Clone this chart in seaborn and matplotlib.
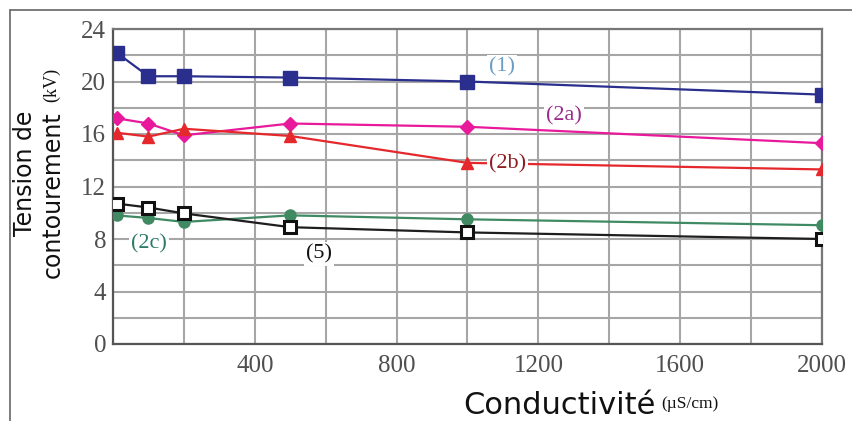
import matplotlib
matplotlib.use("Agg")
import matplotlib.pyplot as plt
import seaborn as sns
import pandas as pd
from matplotlib.lines import Line2D

# Conductivity (µS/cm) and flashover voltage (kV) for each configuration
conductivite = [10, 100, 200, 500, 1000, 2000]
tension_1 = [22.2, 20.4, 20.4, 20.3, 20.0, 19.0]
tension_2a = [17.2, 16.8, 15.9, 16.8, 16.55, 15.3]
tension_2b = [16.1, 15.8, 16.4, 15.85, 13.8, 13.3]
tension_2c = [9.8, 9.6, 9.3, 9.8, 9.5, 9.05]
tension_5 = [10.7, 10.4, 9.95, 8.9, 8.5, 8.0]

series_names = ["(1)", "(2a)", "(2b)", "(2c)", "(5)"]
y_ticks = [0, 4, 8, 12, 16, 20, 24]
x_ticks = [400, 800, 1200, 1600, 2000]

df = pd.DataFrame({
    "cond": conductivite * 5,
    "kv": tension_1 + tension_2a + tension_2b + tension_2c + tension_5,
    "serie": [n for n in series_names for _ in conductivite],
})

sns.set_theme(style="white")
plt.rcParams["font.family"] = ["DejaVu Sans"]

fig = plt.figure(figsize=(8.53, 4.21), dpi=100)
ax = fig.add_axes([113 / 853, 77 / 421, 709 / 853, 315 / 421])

styles = {
    "(1)": dict(color="#2a2f8e", marker="s", ms=9.5, mfc="#2a2f8e", mec="#2a2f8e", mew=1),
    "(2a)": dict(color="#e8199b", marker="D", ms=7.5, mfc="#e8199b", mec="#e8199b", mew=1),
    "(2b)": dict(color="#e5282c", marker="^", ms=8.5, mfc="#e5282c", mec="#e5282c", mew=1),
    "(2c)": dict(color="#3f8a63", marker="o", ms=8, mfc="#3f8a63", mec="#3f8a63", mew=1),
    "(5)": dict(color="#1e1e1e", marker="s", ms=9, mfc="white", mec="#111111", mew=2.2),
}

for name in series_names:
    st = styles[name]
    sub = df[df["serie"] == name]
    sns.lineplot(data=sub, x="cond", y="kv", ax=ax, sort=False, errorbar=None,
                 color=st["color"], linewidth=1.6, zorder=3, legend=False)
    ax.plot(sub["cond"], sub["kv"], linestyle="none", marker=st["marker"],
            markersize=st["ms"], markerfacecolor=st["mfc"],
            markeredgecolor=st["mec"], markeredgewidth=st["mew"], zorder=4)

ax.set_xlim(0, 2000)
ax.set_ylim(0, 24)
ax.set_xticks(x_ticks)
ax.set_xticks(range(0, 2001, 200), minor=True)
ax.set_yticks(y_ticks)
ax.set_yticks(range(0, 25, 2), minor=True)
ax.grid(which="both", color="#a6a6a6", linewidth=1.5, zorder=0)
ax.set_axisbelow(True)
ax.tick_params(which="both", length=0)
ax.tick_params(axis="x", pad=8)
ax.tick_params(axis="y", pad=5)
for lab in ax.get_xticklabels() + ax.get_yticklabels():
    lab.set_family("Liberation Serif")
    lab.set_fontsize(18)
    lab.set_color("#4f4f4f")
ax.set_xlabel("")
ax.set_ylabel("")
for sp in ax.spines.values():
    sp.set_visible(True)
    sp.set_color("#777777")
    sp.set_linewidth(1.6)
ax.spines["left"].set_color("#555555")
ax.spines["bottom"].set_color("#555555")

# Curve labels
lbl_box = dict(facecolor="white", edgecolor="none", pad=1.5)
lbl_font = dict(fontsize=16, family="Liberation Serif", ha="center", va="center",
                bbox=lbl_box, zorder=5)
ax.text(1097, 21.1, "(1)", color="#6b9cc3", **lbl_font)
ax.text(1272, 17.4, "(2a)", color="#9c2c8c", **lbl_font)
ax.text(1114, 13.7, "(2b)", color="#8e1e22", **lbl_font)
ax.text(102, 7.6, "(2c)", color="#2e7a6a", **lbl_font)
ax.text(581, 6.86, "(5)", color="#111111", **lbl_font)

# Axis titles
fig.text(25 / 853, 1 - 173 / 421, "Tension de", rotation=90, fontsize=17,
         family="DejaVu Sans", color="#111111", ha="center", va="center")
fig.text(53 / 853, 1 - 278 / 421, "contourement", rotation=90, fontsize=17,
         family="DejaVu Sans", color="#111111", ha="center", va="bottom")
fig.text(52 / 853, 1 - 102 / 421, "(kV)", rotation=90, fontsize=13,
         family="Liberation Serif", color="#111111", ha="center", va="bottom")
fig.text(463 / 853, 1 - 405 / 421, "Conductivité", fontsize=22,
         family="DejaVu Sans", color="#111111", ha="left", va="center")
fig.text(661 / 853, 1 - 404 / 421, "(µS/cm)", fontsize=12.5,
         family="Liberation Serif", color="#111111", ha="left", va="center")

# Outer frame
fig.add_artist(Line2D([10 / 853, 1], [1 - 10 / 421] * 2, color="#666666", lw=1.2))
fig.add_artist(Line2D([10 / 853] * 2, [0, 1 - 10 / 421], color="#666666", lw=1.2))

fig.savefig("out.png", dpi=100, facecolor="white")
